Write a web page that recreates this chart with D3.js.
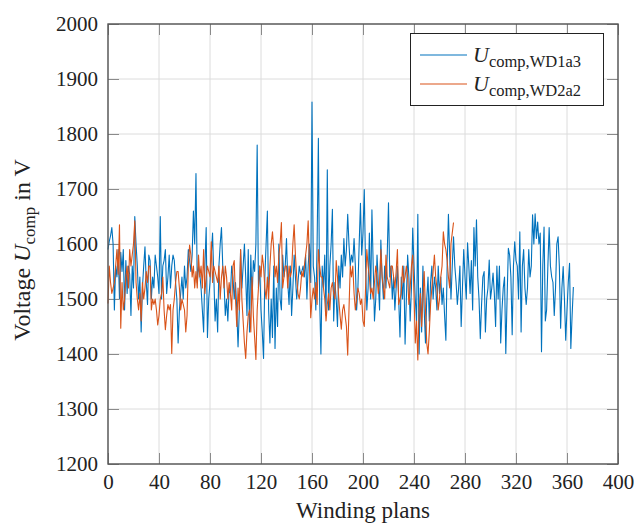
<!DOCTYPE html>
<html><head><meta charset="utf-8">
<script src="https://cdn.jsdelivr.net/npm/d3@7"></script>
<style>
body{margin:0;background:#fff;}
svg text{font-family:"Liberation Serif","Times New Roman",Tinos,"Nimbus Roman","Nimbus Roman No9 L","DejaVu Serif","Noto Serif",FreeSerif,serif;fill:#222;}
</style></head>
<body><svg id="c" width="634" height="525"></svg>
<script>
const xTicks = [0,40,80,120,160,200,240,280,320,360,400];
const yTicks = [1200,1300,1400,1500,1600,1700,1800,1900,2000];
const seriesNames = ["WD1a3","WD2a2"];
const seriesColors = ["#0072BD","#D95319"];
const blueValues = [
1590,1605,1615,1630,1600,1480,1560,1540,1590,1500,
1585,1550,1590,1480,1570,1510,1560,1545,1470,1560,
1520,1650,1600,1560,1500,1540,1440,1520,1560,1595,
1530,1490,1580,1570,1500,1540,1520,1580,1560,1540,
1510,1650,1500,1560,1570,1590,1510,1540,1580,1520,
1560,1580,1570,1530,1500,1420,1480,1510,1540,1500,
1560,1520,1540,1590,1570,1550,1580,1660,1600,1728,
1530,1560,1545,1520,1480,1440,1560,1630,1430,1500,
1530,1580,1620,1540,1460,1500,1440,1560,1600,1630,
1560,1530,1470,1500,1460,1520,1510,1560,1540,1500,
1530,1480,1413,1480,1590,1520,1560,1600,1540,1470,
1590,1440,1580,1500,1570,1550,1600,1780,1520,1560,
1480,1440,1392,1540,1600,1660,1480,1420,1500,1430,
1560,1410,1520,1450,1600,1500,1480,1580,1540,1560,
1610,1530,1490,1560,1470,1520,1580,1540,1500,1530,
1560,1545,1550,1560,1540,1580,1500,1560,1600,1530,
1858,1560,1540,1480,1600,1792,1500,1400,1560,1520,
1580,1470,1735,1480,1560,1600,1663,1460,1530,1500,
1450,1560,1520,1580,1540,1610,1560,1590,1654,1600,
1560,1580,1567,1610,1560,1480,1520,1600,1674,1580,
1620,1699,1560,1480,1520,1620,1500,1662,1560,1460,
1500,1580,1530,1480,1607,1540,1500,1560,1520,1580,
1675,1540,1560,1500,1540,1480,1520,1560,1500,1431,
1540,1500,1560,1418,1500,1580,1540,1460,1520,1629,
1560,1500,1460,1654,1400,1520,1440,1560,1480,1420,
1500,1540,1460,1530,1560,1500,1540,1520,1480,1560,
1510,1540,1490,1520,1470,1425,1560,1654,1580,1500,
1560,1613,1560,1530,1490,1520,1560,1450,1520,1590,
1540,1500,1602,1560,1510,1570,1480,1630,1560,1644,
1540,1500,1428,1490,1540,1550,1440,1500,1520,1571,
1500,1520,1547,1510,1450,1560,1500,1560,1420,1480,
1520,1540,1401,1500,1592,1580,1540,1435,1560,1604,
1570,1560,1500,1622,1440,1560,1590,1520,1490,1520,
1590,1540,1560,1653,1600,1655,1610,1640,1600,1620,
1404,1560,1631,1460,1480,1560,1630,1560,1540,1530,
1470,1520,1600,1613,1560,1447,1520,1559,1500,1425,
1480,1530,1565,1410,1470,1522
];
const orangeValues = [
1492,1560,1530,1510,1520,1530,1560,1590,1545,1635,
1447,1530,1480,1500,1540,1560,1520,1590,1560,1580,
1600,1642,1530,1500,1480,1510,1460,1530,1500,1520,
1550,1530,1560,1560,1480,1500,1490,1500,1480,1453,
1470,1500,1510,1540,1480,1444,1470,1490,1480,1490,
1401,1480,1500,1530,1550,1550,1520,1480,1500,1490,
1480,1440,1470,1560,1598,1580,1540,1560,1520,1550,
1520,1580,1540,1560,1520,1590,1510,1540,1560,1550,
1540,1604,1530,1560,1550,1540,1530,1560,1500,1540,
1560,1520,1560,1540,1500,1530,1510,1480,1560,1570,
1500,1450,1520,1480,1590,1500,1460,1420,1392,1440,
1470,1480,1440,1540,1470,1430,1390,1480,1520,1560,
1540,1580,1560,1520,1500,1540,1500,1560,1600,1622,
1590,1540,1560,1530,1580,1600,1639,1520,1540,1560,
1560,1520,1560,1540,1550,1600,1635,1580,1540,1510,
1500,1520,1550,1540,1560,1580,1600,1642,1560,1466,
1500,1520,1500,1530,1490,1590,1560,1540,1540,1520,
1500,1460,1490,1510,1480,1520,1530,1510,1500,1570,
1540,1500,1470,1445,1480,1490,1470,1450,1398,1480,
1560,1540,1560,1510,1480,1500,1520,1510,1490,1500,
1460,1450,1520,1590,1560,1540,1510,1520,1500,1530,
1560,1540,1510,1530,1590,1540,1520,1500,1580,1540,
1530,1520,1560,1560,1540,1520,1550,1590,1490,1500,
1510,1560,1530,1540,1560,1540,1490,1520,1560,1580,
1510,1420,1460,1389,1480,1510,1450,1500,1550,1480,
1420,1400,1440,1490,1520,1550,1580,1540,1520,1480,
1500,1540,1560,1622,1600,1590,1570,1540,1520,1600,
1620,1639
];

const svg = d3.select("#c");
const L=108, T=24, W=510, H=440;
const x = d3.scaleLinear().domain([0,400]).range([L,L+W]);
const y = d3.scaleLinear().domain([1200,2000]).range([T+H,T]);

const g = svg.append("g");
g.selectAll(".gx").data(xTicks).join("line")
  .attr("x1",d=>x(d)).attr("x2",d=>x(d)).attr("y1",T).attr("y2",T+H)
  .attr("stroke","#dcdcdc").attr("stroke-width",1);
g.selectAll(".gy").data(yTicks).join("line")
  .attr("y1",d=>y(d)).attr("y2",d=>y(d)).attr("x1",L).attr("x2",L+W)
  .attr("stroke","#dcdcdc").attr("stroke-width",1);

const tl = 11;
const axB = d3.axisBottom(x).tickValues(xTicks).tickSize(-tl).tickPadding(10).tickFormat(d3.format("d"));
const axL = d3.axisLeft(y).tickValues(yTicks).tickSize(-tl).tickPadding(10).tickFormat(d3.format("d"));
const axT = d3.axisTop(x).tickValues(xTicks).tickSize(-tl).tickFormat("");
const axR = d3.axisRight(y).tickValues(yTicks).tickSize(-tl).tickFormat("");
function style(sel){
  sel.attr("font-family",null);
  sel.select(".domain").remove();
  sel.selectAll(".tick line").attr("stroke","#8a8a8a").attr("stroke-width",1);
  sel.selectAll(".tick text").attr("font-size",21).attr("fill","#222");
}
g.append("g").attr("transform",`translate(0,${T+H})`).call(axB).call(style);
g.append("g").attr("transform",`translate(${L},0)`).call(axL).call(style);
g.append("g").attr("transform",`translate(0,${T})`).call(axT).call(style);
g.append("g").attr("transform",`translate(${L+W},0)`).call(axR).call(style);

const line = d3.line().x((d,i)=>x(i)).y(d=>y(d));
[blueValues, orangeValues].forEach((vals,k)=>{
  g.append("path").datum(vals).attr("d",line).attr("fill","none")
   .attr("stroke",seriesColors[k]).attr("stroke-width",1.1).attr("stroke-linejoin","round");
});
g.append("rect").attr("x",L).attr("y",T).attr("width",W).attr("height",H)
  .attr("fill","none").attr("stroke","#555").attr("stroke-width",1.4);

const lg = svg.append("g");
lg.append("rect").attr("x",410.5).attr("y",33.5).attr("width",193).attr("height",72)
  .attr("fill","#fff").attr("stroke","#222").attr("stroke-width",1);
seriesNames.forEach((n,i)=>{
  const yy = 55 + i*29;
  lg.append("line").attr("x1",420).attr("x2",467).attr("y1",yy).attr("y2",yy)
    .attr("stroke",seriesColors[i]).attr("stroke-width",1.1);
  const t = lg.append("text").attr("x",473).attr("y",yy+7).attr("font-size",22);
  t.append("tspan").attr("font-style","italic").text("U");
  t.append("tspan").attr("font-size",16.5).attr("dy",5).text("comp,"+n);
});

svg.append("text").attr("x",x(200)).attr("y",518).attr("text-anchor","middle")
  .attr("font-size",23).text("Winding plans");
const yl = svg.append("text").attr("transform","translate(30,250) rotate(-90)")
  .attr("text-anchor","middle").attr("font-size",24);
yl.append("tspan").text("Voltage ");
yl.append("tspan").attr("font-style","italic").text("U");
yl.append("tspan").attr("font-size",17).attr("dy",5).text("comp");
yl.append("tspan").attr("dy",-5).text(" in V");
</script></body></html>
